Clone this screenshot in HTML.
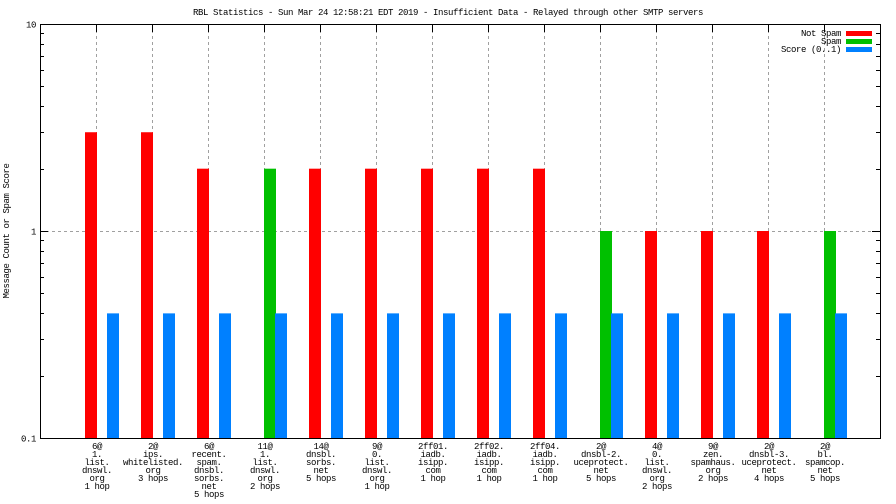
<!DOCTYPE html>
<html><head><meta charset="utf-8"><style>
html,body{margin:0;padding:0;background:#fff;}
svg{display:block;font-family:"Liberation Mono","DejaVu Sans Mono",monospace;letter-spacing:-0.4px;}
</style></head><body>
<svg id="chart" width="896" height="504" viewBox="0 0 896 504">
<text x="448" y="15" text-anchor="middle" font-size="9">RBL Statistics - Sun Mar 24 12:58:21 EDT 2019 - Insufficient Data - Relayed through other SMTP servers</text>
<text transform="translate(9,231) rotate(-90)" text-anchor="middle" font-size="9">Message Count or Spam Score</text>
<g id="grid"></g><g id="bars"></g><g id="axes"></g><g id="labels"></g>
<g>
<text x="841" y="36" text-anchor="end" font-size="9">Not Spam</text>
<rect x="846" y="31" width="26" height="5" fill="#ff0000"/>
<text x="841" y="44" text-anchor="end" font-size="9">Spam</text>
<rect x="846" y="39" width="26" height="5" fill="#00c000"/>
<text x="841" y="52" text-anchor="end" font-size="9">Score (0..1)</text>
<rect x="846" y="47" width="26" height="5" fill="#0080ff"/>
</g>
</svg>
<script>
const categories = [
 ["6@","1.","list.","dnswl.","org","1 hop"],
 ["2@","ips.","whitelisted.","org","3 hops"],
 ["6@","recent.","spam.","dnsbl.","sorbs.","net","5 hops"],
 ["11@","1.","list.","dnswl.","org","2 hops"],
 ["14@","dnsbl.","sorbs.","net","5 hops"],
 ["9@","0.","list.","dnswl.","org","1 hop"],
 ["2ff01.","iadb.","isipp.","com","1 hop"],
 ["2ff02.","iadb.","isipp.","com","1 hop"],
 ["2ff04.","iadb.","isipp.","com","1 hop"],
 ["2@","dnsbl-2.","uceprotect.","net","5 hops"],
 ["4@","0.","list.","dnswl.","org","2 hops"],
 ["9@","zen.","spamhaus.","org","2 hops"],
 ["2@","dnsbl-3.","uceprotect.","net","4 hops"],
 ["2@","bl.","spamcop.","net","5 hops"]
];
const notSpam = [3,3,2,0,2,2,2,2,2,0,1,1,1,0];
const spam = [0,0,0,2,0,0,0,0,0,1,0,0,0,1];
const score = [0.4,0.4,0.4,0.4,0.4,0.4,0.4,0.4,0.4,0.4,0.4,0.4,0.4,0.4];
const yTicks = [0.1,1,10];
const yTickLabels = ["0.1","1","10"];

const NS="http://www.w3.org/2000/svg";
const L=40,R=880,T=24,B=438;
function yScale(v){return B-(Math.log10(v)+1)/2*(B-T);}
function xScale(i){return 96+i*56;}
function mk(tag,attrs,parent){const e=document.createElementNS(NS,tag);for(const k in attrs)e.setAttribute(k,attrs[k]);document.getElementById(parent).appendChild(e);return e;}

categories.forEach((c,i)=>{
 const g=mk('line',{x1:xScale(i)+0.5,x2:xScale(i)+0.5,y1:T,y2:B,stroke:'#a0a0a0','stroke-dasharray':'3,3'},'grid');
 
 
});
const hg=mk('line',{x1:L,x2:R,y1:yScale(1)+0.5,y2:yScale(1)+0.5,stroke:'#a0a0a0','stroke-dasharray':'3,3'},'grid');



categories.forEach((c,i)=>{
 const x=xScale(i);
 if(notSpam[i]>0){const r=mk('rect',{x:x-11,y:yScale(notSpam[i]),width:12,height:B-yScale(notSpam[i]),fill:'#ff0000'},'bars');
  
  }
 if(spam[i]>0){const r=mk('rect',{x:x,y:yScale(spam[i]),width:12,height:B-yScale(spam[i]),fill:'#00c000'},'bars');
  
  }
 if(score[i]>0){const r=mk('rect',{x:x+11,y:yScale(score[i]),width:12,height:B-yScale(score[i]),fill:'#0080ff'},'bars');
  
  }
});

const fr=mk('rect',{x:L+0.5,y:T+0.5,width:R-L,height:B-T,fill:'none',stroke:'#000'},'axes');


for(let d=0.1;d<10;d*=10){
 for(let m=2;m<=9;m++){const v=d*m,y=Math.round(yScale(v))+0.5;
  const t1=mk('line',{x1:L,x2:L+4,y1:y,y2:y,stroke:'#000'},'axes');
  
  
  const t2=mk('line',{x1:R-4,x2:R,y1:y,y2:y,stroke:'#000'},'axes');
  
  }
}
yTicks.forEach((v,i)=>{const y=Math.round(yScale(v))+0.5;
 const t=mk('line',{x1:L,x2:L+8,y1:y,y2:y,stroke:'#000'},'axes');
 
 
 const t2=mk('line',{x1:R-8,x2:R,y1:y,y2:y,stroke:'#000'},'axes');
 
 
 const lb=mk('text',{x:36,y:y+3,'text-anchor':'end','font-size':'9'},'axes');
 lb.textContent=yTickLabels[i];
 
 
});
categories.forEach((c,i)=>{const x=xScale(i)+0.5;
 const t=mk('line',{x1:x,x2:x,y1:T,y2:T+8,stroke:'#000'},'axes');
 
 
 c.forEach((s,j)=>{const lb=mk('text',{x:xScale(i)+1,y:449+j*8,'text-anchor':'middle','font-size':'9'},'labels');
  lb.textContent=s;
  
  });
});
</script>
</body></html>
